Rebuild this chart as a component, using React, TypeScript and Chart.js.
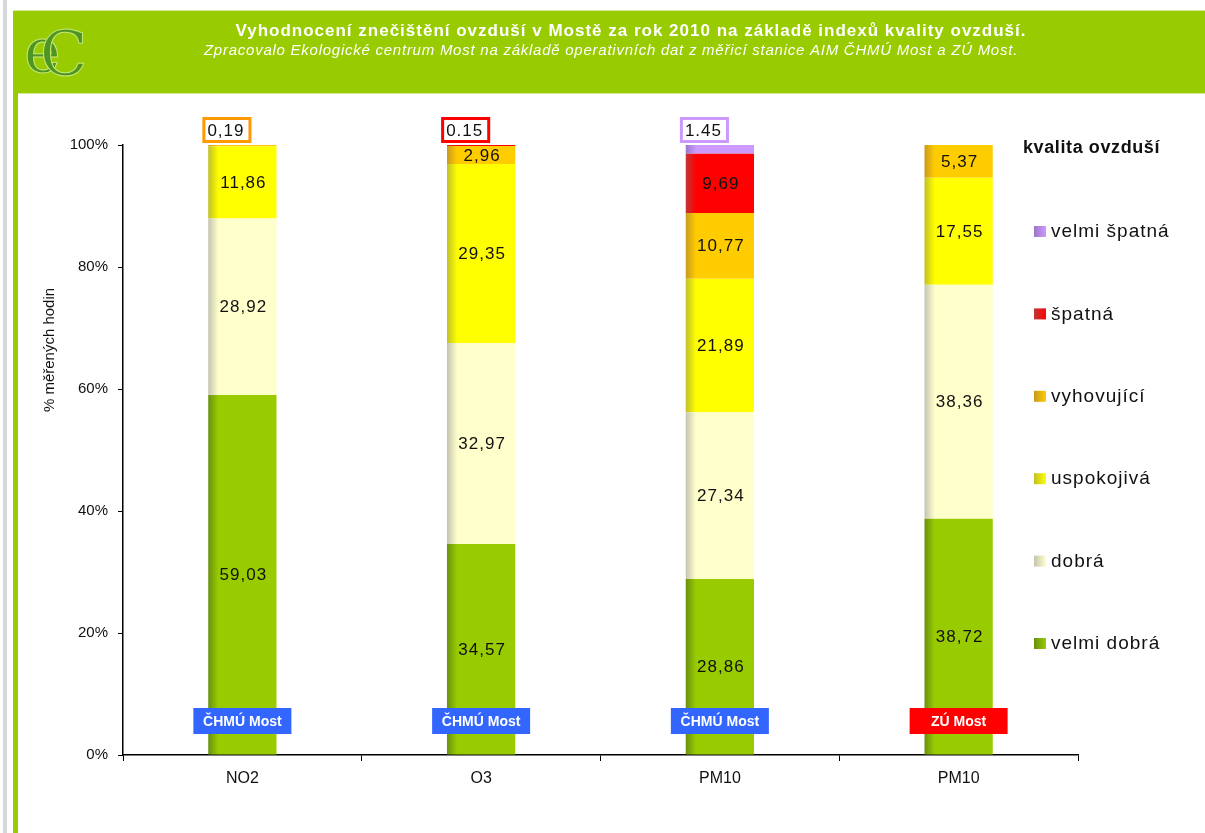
import React, { useEffect, useRef } from "react";
import { Chart, registerables } from "chart.js";

Chart.register(...registerables);

// ---------- data ----------
const categories = ["NO2", "O3", "PM10", "PM10"];
const stations = ["ČHMÚ Most", "ČHMÚ Most", "ČHMÚ Most", "ZÚ Most"];
const seriesNames = ["velmi dobrá", "dobrá", "uspokojivá", "vyhovující", "špatná", "velmi špatná"];
const velmiDobra = [59.03, 34.57, 28.86, 38.72];
const dobra = [28.92, 32.97, 27.34, 38.36];
const uspokojiva = [11.86, 29.35, 21.89, 17.55];
const vyhovujici = [0.19, 2.96, 10.77, 5.37];
const spatna = [0, 0.15, 9.69, 0];
const velmiSpatna = [0, 0, 1.45, 0];
const yTicks = [0, 20, 40, 60, 80, 100];
const calloutSeparators = [",", ".", ".", ","];
const series = [velmiDobra, dobra, uspokojiva, vyhovujici, spatna, velmiSpatna];

const TITLE = "Vyhodnocení znečištění ovzduší v Mostě za rok 2010 na základě indexů kvality ovzduší.";
const SUBTITLE = "Zpracovalo Ekologické centrum Most na základě operativních dat z měřicí stanice AIM ČHMÚ Most a ZÚ Most.";
const Y_TITLE = "% měřených hodin";
const LEGEND_TITLE = "kvalita ovzduší";

// ---------- styles ----------
const FONT = "'Liberation Sans', Arial, sans-serif";
const SERIES_COLORS = ["#99cc00", "#ffffcc", "#ffff00", "#ffcc00", "#ff0000", "#cc99ff"];
const SERIES_SHADES = ["#6a9010", "#c4c4b0", "#c0c028", "#c89a20", "#c03838", "#9c78c8"];
const CALLOUT_BORDERS = ["#99cc00", "#cccc99", "#ffff00", "#ff9900", "#ff0000", "#cc99ff"];
const STATION_COLORS: Record<string, string> = { "ČHMÚ Most": "#3366ff", "ZÚ Most": "#ff0000" };
const BAR_PCT = 0.286;

const fmt = (v: number, sep = ",") => v.toFixed(2).replace(".", sep);

const setSpacing = (ctx: any, px: number) => {
  if ("letterSpacing" in ctx) ctx.letterSpacing = `${px}px`;
};

const makeBg = (i: number) => (ctx: any) => {
  const chart = ctx.chart;
  const xs = chart.scales && chart.scales.x;
  if (!xs || !chart.chartArea || ctx.type !== "data") return SERIES_COLORS[i];
  const cx = xs.getPixelForValue(ctx.dataIndex);
  const w = (xs.width / categories.length) * BAR_PCT;
  const g = chart.ctx.createLinearGradient(cx - w / 2, 0, cx + w / 2, 0);
  g.addColorStop(0, SERIES_SHADES[i]);
  g.addColorStop(0.15, SERIES_COLORS[i]);
  g.addColorStop(1, SERIES_COLORS[i]);
  return g;
};

const framePlugin = {
  id: "frame",
  beforeDraw(chart: any) {
    const { ctx, width, height } = chart;
    ctx.save();
    ctx.fillStyle = "#ffffff";
    ctx.fillRect(0, 0, width, height);
    ctx.fillStyle = "#d4d8dd";
    ctx.fillRect(3, 0, 4, height);
    ctx.fillStyle = "#99cc00";
    ctx.fillRect(13, 10, width - 13, 84);
    ctx.fillRect(13, 10, 5, height - 10);
    ctx.fillStyle = "#d6eb9a";
    ctx.fillRect(13, 10, width - 13, 1);
    ctx.fillRect(18, 93, width - 18, 1);
    // logo
    ctx.font = "62px 'DejaVu Serif', serif";
    ctx.textBaseline = "alphabetic";
    ctx.textAlign = "left";
    ctx.fillStyle = "#4f9620";
    ctx.strokeStyle = "#c4e67a";
    ctx.lineWidth = 1;
    ctx.fillText("e", 24, 72);
    ctx.strokeText("e", 24, 72);
    ctx.fillText("C", 40, 75);
    ctx.strokeText("C", 40, 75);
    // titles
    ctx.fillStyle = "#ffffff";
    ctx.textAlign = "center";
    ctx.textBaseline = "middle";
    ctx.font = `bold 17px ${FONT}`;
    setSpacing(ctx, 1);
    ctx.fillText(TITLE, 631, 31, 800);
    ctx.font = `italic 15px ${FONT}`;
    setSpacing(ctx, 0.75);
    ctx.fillText(SUBTITLE, 611, 51, 818);
    setSpacing(ctx, 0);
    ctx.restore();
  },
};

const labelPlugin = {
  id: "labels",
  afterDatasetsDraw(chart: any) {
    const { ctx, chartArea } = chart;
    ctx.save();
    series.forEach((data, di) => {
      const meta = chart.getDatasetMeta(di);
      meta.data.forEach((bar: any, i: number) => {
        const v = data[i];
        if (!v) return;
        const { x, y, base } = bar.getProps(["x", "y", "base"], true);
        if (v >= 2) {
          ctx.font = `17px ${FONT}`;
          setSpacing(ctx, 1);
          ctx.fillStyle = "#111111";
          ctx.textAlign = "center";
          ctx.textBaseline = "middle";
          ctx.fillText(fmt(v), x + 1, (y + base) / 2 + 1);
        } else {
          const txt = fmt(v, calloutSeparators[i]);
          ctx.font = `17px ${FONT}`;
          setSpacing(ctx, 1);
          const tw = ctx.measureText(txt).width;
          const bw = tw + 12;
          const bh = 26;
          const left = x - 40;
          const top = chartArea.top - 2 - bh;
          ctx.fillStyle = "#ffffff";
          ctx.fillRect(left, top, bw, bh);
          ctx.strokeStyle = CALLOUT_BORDERS[di];
          ctx.lineWidth = 3;
          ctx.strokeRect(left + 1.5, top + 1.5, bw - 3, bh - 3);
          ctx.fillStyle = "#111111";
          ctx.textAlign = "left";
          ctx.textBaseline = "middle";
          ctx.fillText(txt, left + 5, top + bh / 2 + 1);
        }
      });
    });
    setSpacing(ctx, 0);
    // station labels
    const meta0 = chart.getDatasetMeta(0);
    meta0.data.forEach((bar: any, i: number) => {
      const { x } = bar.getProps(["x"], true);
      const s = stations[i];
      const bw = 98;
      const bh = 26;
      ctx.fillStyle = STATION_COLORS[s];
      ctx.fillRect(x - bw / 2, 708, bw, bh);
      ctx.fillStyle = "#ffffff";
      ctx.font = `bold 14px ${FONT}`;
      ctx.textAlign = "center";
      ctx.textBaseline = "middle";
      ctx.fillText(s, x, 708 + bh / 2 + 1);
    });
    ctx.restore();
  },
  afterDraw(chart: any) {
    const { ctx, chartArea } = chart;
    ctx.save();
    // legend
    ctx.fillStyle = "#111111";
    ctx.textAlign = "left";
    ctx.textBaseline = "middle";
    ctx.font = `bold 18px ${FONT}`;
    setSpacing(ctx, 0.6);
    ctx.fillText(LEGEND_TITLE, 1023, 148);
    const order = seriesNames.map((_, i) => i).reverse();
    order.forEach((di, k) => {
      const y = 231 + k * 82.4;
      const g = ctx.createLinearGradient(1034, 0, 1046, 0);
      g.addColorStop(0, SERIES_SHADES[di]);
      g.addColorStop(1, SERIES_COLORS[di]);
      ctx.fillStyle = g;
      ctx.fillRect(1034, y - 5, 12, 11);
      ctx.fillStyle = "#111111";
      ctx.font = `19px ${FONT}`;
      setSpacing(ctx, 1);
      ctx.fillText(seriesNames[di], 1051, y + 1);
    });
    setSpacing(ctx, 0);
    // y axis title
    ctx.translate(50, (chartArea.top + chartArea.bottom) / 2 - 100);
    ctx.rotate(-Math.PI / 2);
    ctx.font = `15px ${FONT}`;
    ctx.textAlign = "center";
    ctx.textBaseline = "middle";
    ctx.fillText(Y_TITLE, 0, 0);
    ctx.restore();
  },
};

export default function App() {
  const ref = useRef<HTMLCanvasElement>(null);
  useEffect(() => {
    if (!ref.current) return;
    const chart = new Chart(ref.current, {
      type: "bar",
      data: {
        labels: categories,
        datasets: series.map((data, i) => ({
          label: seriesNames[i],
          data,
          backgroundColor: makeBg(i),
          borderWidth: 0,
          barPercentage: BAR_PCT,
          categoryPercentage: 1,
        })),
      },
      options: {
        animation: false,
        responsive: true,
        maintainAspectRatio: false,
        events: [],
        layout: { padding: { left: 63, top: 145, right: 127, bottom: 38 } },
        plugins: {
          legend: { display: false },
          tooltip: { enabled: false },
          title: { display: false },
        },
        scales: {
          x: {
            stacked: true,
            grid: {
              display: true,
              drawOnChartArea: false,
              drawTicks: true,
              tickLength: 6,
              color: "#000000",
              offset: true,
            },
            border: { display: true, color: "#000000", width: 1.5 },
            ticks: {
              color: "#111111",
              font: { family: FONT, size: 16 },
              padding: 8,
              maxRotation: 0,
              autoSkip: false,
            },
            afterFit: (s: any) => {
              s.height = 40;
            },
          },
          y: {
            stacked: true,
            min: 0,
            max: 100,
            afterBuildTicks: (s: any) => {
              s.ticks = yTicks.map((v) => ({ value: v }));
            },
            ticks: {
              color: "#111111",
              font: { family: FONT, size: 15 },
              padding: 10,
              callback: (v: any) => `${v}%`,
            },
            grid: {
              display: true,
              drawOnChartArea: false,
              drawTicks: true,
              tickLength: 5,
              color: "#000000",
            },
            border: { display: true, color: "#000000", width: 1.5 },
            afterFit: (s: any) => {
              s.width = 60;
            },
          },
        },
      },
      plugins: [framePlugin, labelPlugin],
    } as any);
    return () => chart.destroy();
  }, []);
  return (
    <div style={{ position: "absolute", left: 0, top: 0, width: 1205, height: 833 }}>
      <canvas ref={ref} />
    </div>
  );
}
